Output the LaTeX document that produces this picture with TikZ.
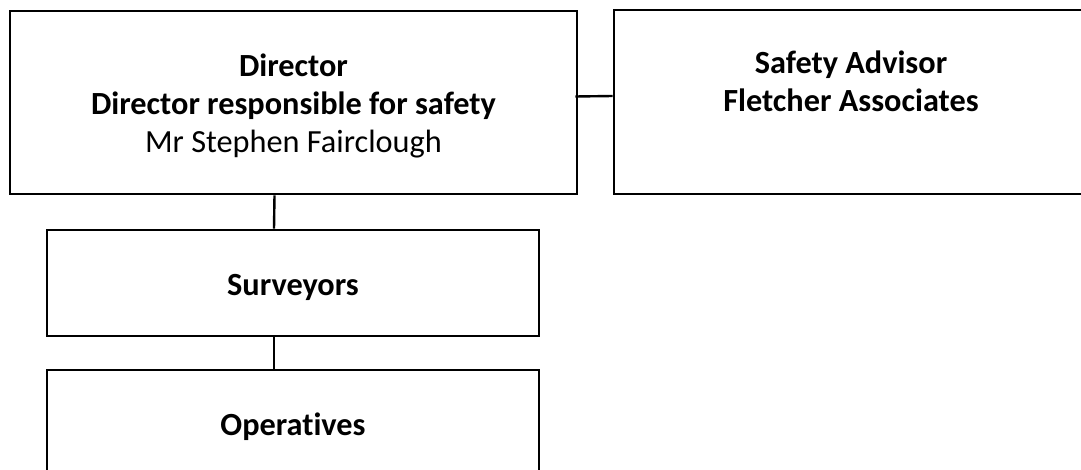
\documentclass[tikz,border=0pt]{standalone}
\usepackage{fontspec}
\setmainfont[Ligatures={NoCommon}]{Carlito}
\usetikzlibrary{positioning}

\tikzset{
  caixa/.style={draw, line width=2.6pt, inner sep=0pt},
  texto/.style={inner sep=0pt, align=center, font=\fontsize{32.3}{38}\selectfont},
  ligacao/.style={line width=2.4pt}
}

\begin{document}
\begin{tikzpicture}[x=1pt, y=1pt]
    \clip (0,0) rectangle (1081,-470);

    % caixas de cima
    \node[caixa, minimum width=567pt, minimum height=183pt] (dir) at (293.5,-102.5) {};
    \node[caixa, minimum width=474pt, minimum height=184pt] (adv) at (851,-102) {};
    \node[texto] (dirtxt) at ([yshift=-3pt]dir.center)
        {\textbf{Director}\\\textbf{Director responsible for safety}\\Mr Stephen Fairclough};
    \node[texto] (advtxt) at ([yshift=-3.5pt]adv.center)
        {\textbf{Safety Advisor}\\\textbf{Fletcher Associates}\\\strut};

    % caixas de baixo
    \node[caixa, minimum width=492pt, minimum height=106pt] (surv) at (293,-283) {};
    \node[caixa, minimum width=492pt, minimum height=106pt] (oper) at (293,-423) {};
    \node[texto] (survtxt) at ([yshift=-4pt]surv.center) {\textbf{Surveyors}};
    \node[texto] (opertxt) at ([yshift=-4pt]oper.center) {\textbf{Operatives}};

    % ligacoes
    \draw[ligacao] ([xshift=-3pt, yshift=6pt]dir.east) -- ([yshift=6pt]adv.west);
    \draw[ligacao] ([xshift=-19pt]dir.south) -- ([xshift=-19pt]surv.north);
    \draw[ligacao] ([xshift=-19pt]surv.south) -- ([xshift=-19pt]oper.north);

\end{tikzpicture}
\end{document}
